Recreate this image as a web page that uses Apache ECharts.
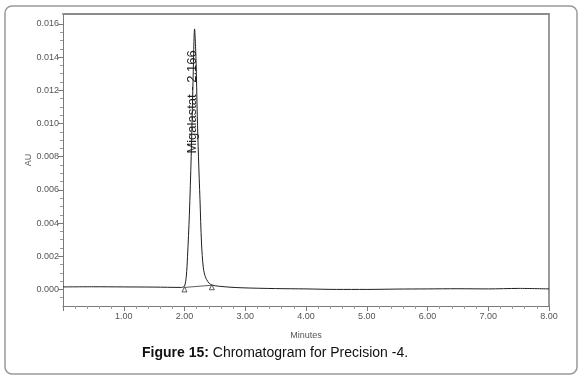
<!DOCTYPE html>
<html>
<head>
<meta charset="utf-8">
<script src="https://cdn.jsdelivr.net/npm/echarts@6/dist/echarts.min.js"></script>
<style>
    html, body { margin: 0; padding: 0; background: #fff; }
    #chromChart { width: 585px; height: 380px; }
</style>
</head>
<body>
<div id="chromChart"></div>
<script>
    // 保留时间 (min) 与吸光度 (AU)
    const retTime = [0, 0.5, 1.0, 1.5, 1.95, 2.0, 2.03, 2.05, 2.08, 2.11, 2.14, 2.166, 2.19, 2.21, 2.23, 2.255, 2.28, 2.31, 2.35, 2.43, 2.6, 2.93, 3.5, 4.0, 4.5, 5.0, 5.5, 6.0, 6.5, 7.0, 7.5, 8.0]
    const absorb = [0.00015, 0.00016, 0.00015, 0.00014, 0.00012, 0.0002, 0.0008, 0.002, 0.0045, 0.008, 0.0125, 0.0157, 0.0138, 0.0105, 0.008, 0.0054, 0.0028, 0.0013, 0.0007, 0.0003, 0.00018, 0.0001, 0.00005, 0.00003, 0.0, 0.0, 0.00002, 0.00003, 0.00004, 0.00003, 0.00006, 0.00003]

    // 积分基线
    const baseTime = [2.0, 2.45]
    const baseAbs = [0.00012, 0.00025]

    // 峰标记
    const peakName = 'Migalastat - 2.166'
    const peakLabelAt = [2.13, 0.0113]

    const yMajor = [0, 0.002, 0.004, 0.006, 0.008, 0.010, 0.012, 0.014, 0.016]
    const yMinor = [-0.0005, 0.0005, 0.001, 0.0015, 0.0025, 0.003, 0.0035, 0.0045, 0.005, 0.0055, 0.0065, 0.007, 0.0075, 0.0085, 0.009, 0.0095, 0.0105, 0.011, 0.0115, 0.0125, 0.013, 0.0135, 0.0145, 0.015, 0.0155]

    const axisGray = '#7a7a7a'
    const labelGray = '#555'
    const fontName = '"Liberation Sans", Arial, sans-serif'

    const _chromOption = {
        animation: false,
        grid: {
            left: 63,
            right: 36,
            top: 14,
            bottom: 74
        },
        xAxis: [
            {
                type: 'value',
                min: 0,
                max: 8,
                interval: 1,
                name: 'Minutes',
                nameLocation: 'middle',
                nameGap: 25,
                nameMoveOverlap: false,
                nameTextStyle: { fontSize: 9, color: labelGray, fontFamily: fontName },
                axisLine: { onZero: false, lineStyle: { color: axisGray, width: 1 } },
                axisTick: { length: 5, lineStyle: { color: axisGray } },
                minorTick: { show: true, splitNumber: 5, length: 3, lineStyle: { color: '#999' } },
                splitLine: { show: false },
                axisLabel: {
                    showMinLabel: false,
                    fontSize: 9,
                    color: labelGray,
                    fontFamily: fontName,
                    margin: 6,
                    formatter: v => v.toFixed(2)
                }
            },
            {
                // 上边框
                type: 'value',
                position: 'top',
                min: 0,
                max: 8,
                axisLine: { show: true, onZero: false, lineStyle: { color: '#8c8c8c', width: 2 } },
                axisTick: { show: false },
                axisLabel: { show: false },
                splitLine: { show: false }
            }
        ],
        yAxis: [
            {
                type: 'value',
                min: -0.001,
                max: 0.0166,
                name: 'AU',
                nameLocation: 'middle',
                nameGap: 30,
                nameMoveOverlap: false,
                nameTextStyle: { fontSize: 9, color: labelGray, fontFamily: fontName },
                axisLine: { show: true, onZero: false, lineStyle: { color: axisGray, width: 1 } },
                axisTick: { show: true, length: 5, customValues: yMajor, lineStyle: { color: axisGray } },
                splitLine: { show: false },
                axisLabel: {
                    customValues: yMajor,
                    fontSize: 9,
                    color: labelGray,
                    fontFamily: fontName,
                    margin: 4,
                    formatter: v => v.toFixed(3)
                }
            },
            {
                // 次刻度
                type: 'value',
                position: 'left',
                min: -0.001,
                max: 0.0166,
                axisLine: { show: false, onZero: false },
                axisTick: { show: true, length: 3, customValues: yMinor, lineStyle: { color: '#999' } },
                axisLabel: { show: false },
                splitLine: { show: false }
            },
            {
                // 右边框
                type: 'value',
                position: 'right',
                min: -0.001,
                max: 0.0166,
                axisLine: { show: true, onZero: false, lineStyle: { color: '#9a9a9a', width: 2 } },
                axisTick: { show: false },
                axisLabel: { show: false },
                splitLine: { show: false }
            }
        ],
        series: [
            {
                type: 'line',
                data: retTime.map((t, i) => [t, absorb[i]]),
                showSymbol: false,
                smooth: 0.3,
                lineStyle: { color: '#1e1e1e', width: 1 },
                markPoint: {
                    symbol: 'circle',
                    symbolSize: 0,
                    data: [{ coord: peakLabelAt, value: peakName }],
                    label: {
                        show: true,
                        position: 'inside',
                        rotate: 90,
                        formatter: peakName,
                        fontSize: 13,
                        color: '#1e1e1e',
                        fontFamily: fontName
                    }
                }
            },
            {
                type: 'line',
                data: baseTime.map((t, i) => [t, baseAbs[i]]),
                symbol: 'triangle',
                symbolSize: 5,
                symbolOffset: [0, 2],
                itemStyle: { color: '#fff', borderColor: '#333', borderWidth: 0.8 },
                lineStyle: { color: '#333', width: 0.8 }
            }
        ],
        graphic: [
            {
                type: 'rect',
                shape: { x: 5, y: 6, width: 572, height: 368, r: 7 },
                style: { fill: 'none', stroke: '#999', lineWidth: 1.5 },
                silent: true
            },
            {
                type: 'text',
                left: 142,
                top: 346,
                style: {
                    text: '{b|Figure 15:} Chromatogram for Precision -4.',
                    fontSize: 14,
                    fontFamily: fontName,
                    fill: '#111',
                    rich: {
                        b: { fontWeight: 'bold', fontSize: 14, fontFamily: fontName, fill: '#111' }
                    }
                }
            }
        ]
    }

    const chromCharts = echarts.init(document.getElementById('chromChart'))
    chromCharts.setOption(_chromOption)
    window.addEventListener('resize', () => chromCharts.resize())
</script>
</body>
</html>
